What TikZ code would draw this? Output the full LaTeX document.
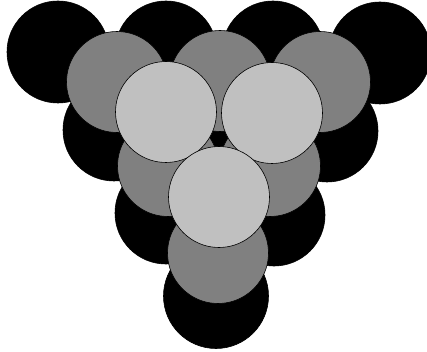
\documentclass[tikz,border=0pt]{standalone}
\usetikzlibrary{positioning}
\definecolor{ballblack}{HTML}{000000}
\definecolor{ballgray}{HTML}{808080}
\definecolor{balllight}{HTML}{C0C0C0}
\tikzset{
  ball/.style      = {circle, draw=black, line width=0.6pt, inner sep=0pt,
                      minimum size=102pt},
  blackball/.style = {ball, fill=ballblack},
  grayball/.style  = {ball, fill=ballgray, minimum size=101pt},
  lightball/.style = {ball, fill=balllight, minimum size=101pt},
}
\begin{document}
\begin{tikzpicture}[x=1pt, y=-1pt]
        \useasboundingbox (0,0) rectangle (427,352);
        \begin{scope}
        \clip (0,0) rectangle (427,352);
        % bottom layer
        \node[blackball] (b1) at (58,52)   {};
        \node[blackball] (b2) at (166,52)  {};
        \node[blackball] (b3) at (273,52)  {};
        \node[blackball] (b4) at (380,53)  {};
        \node[blackball] (b5) at (114,130) {};
        \node[blackball] (b6) at (220,130) {};
        \node[blackball] (b7) at (327,131) {};
        \node[blackball] (b8) at (166,213) {};
        \node[blackball] (b9) at (274,215) {};
        \node[blackball, minimum size=105pt] (b10) at (216,296) {};
        % middle layer
        \node[grayball] (g1) at (117,82)  {};
        \node[grayball] (g2) at (220,81)  {};
        \node[grayball] (g3) at (320,82)  {};
        \node[grayball] (g4) at (168,166) {};
        \node[grayball] (g5) at (270,166) {};
        \node[grayball] (g6) at (218,253) {};
        % top layer
        \node[lightball] (l1) at (166,112) {};
        \node[lightball] (l2) at (272,113) {};
        \node[lightball] (l3) at (219,197) {};
        \end{scope}
    \end{tikzpicture}
\end{document}
